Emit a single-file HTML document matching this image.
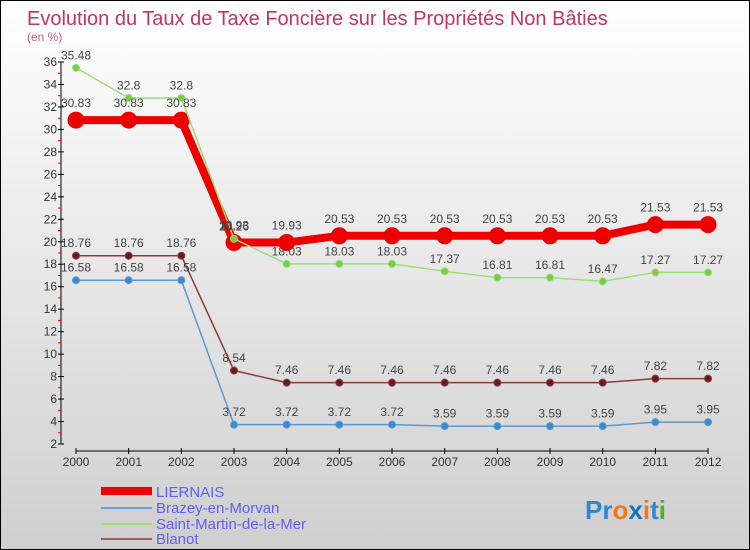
<!DOCTYPE html>
<html><head><meta charset="utf-8"><style>
body{margin:0}
#c{width:748px;height:548px;border:1px solid #000;background:linear-gradient(#ffffff,#cfcfcf);position:relative;overflow:hidden;font-family:"Liberation Sans",sans-serif}
svg text{font-family:"Liberation Sans",sans-serif}
</style></head><body>
<div id="c">
<svg id="s" width="748" height="548" xmlns="http://www.w3.org/2000/svg">
<text x="26" y="24" font-size="20" fill="#c03468">Evolution du Taux de Taxe Foncière sur les Propriétés Non Bâties</text>
<text x="26" y="40" font-size="12" fill="#c06088">(en %)</text>
<g id="axes"></g><g id="series"></g><g id="labels"></g>
<g>
<rect x="100" y="486" width="51" height="8" fill="#ee0000"/>
<text x="155" y="496" font-size="15" fill="#6060f0">LIERNAIS</text>
<line x1="100" y1="507" x2="151" y2="507" stroke="#6aa0d0" stroke-width="2"/>
<text x="155" y="512" font-size="15" fill="#6060f0">Brazey-en-Morvan</text>
<line x1="100" y1="523" x2="151" y2="523" stroke="#99dd77" stroke-width="2"/>
<text x="155" y="528" font-size="15" fill="#6060f0">Saint-Martin-de-la-Mer</text>
<line x1="100" y1="538" x2="151" y2="538" stroke="#a06060" stroke-width="2"/>
<text x="155" y="543" font-size="15" fill="#6060f0">Blanot</text>
</g>
<g font-size="26" font-weight="bold">
<text x="584" y="518"><tspan fill="#2a8ad0">Pr</tspan><tspan fill="#f07818">o</tspan><tspan fill="#1a70c0">x</tspan><tspan fill="#f07818">i</tspan><tspan fill="#2a8ad0">t</tspan><tspan fill="#50b030">i</tspan></text>
</g>
</svg></div>
<script>
const years=[2000,2001,2002,2003,2004,2005,2006,2007,2008,2009,2010,2011,2012];
const liernais=[30.83,30.83,30.83,19.93,19.93,20.53,20.53,20.53,20.53,20.53,20.53,21.53,21.53];
const brazey=[16.58,16.58,16.58,3.72,3.72,3.72,3.72,3.59,3.59,3.59,3.59,3.95,3.95];
const saintMartin=[35.48,32.8,32.8,20.26,18.03,18.03,18.03,17.37,16.81,16.81,16.47,17.27,17.27];
const blanot=[18.76,18.76,18.76,8.54,7.46,7.46,7.46,7.46,7.46,7.46,7.46,7.82,7.82];
const yTicks=[2,4,6,8,10,12,14,16,18,20,22,24,26,28,30,32,34,36];
const NS="http://www.w3.org/2000/svg";
const xs=i=>75+i*52.67;
const ys=v=>443-(v-2)*(382/34);
function mk(tag,attrs,parent){const e=document.createElementNS(NS,tag);for(const k in attrs)e.setAttribute(k,attrs[k]);parent.appendChild(e);return e;}
const ax=document.getElementById('axes'),se=document.getElementById('series'),lb=document.getElementById('labels');
let l=mk('line',{x1:60,y1:61,x2:60,y2:443,stroke:'#000'},ax);


l=mk('line',{x1:75,y1:450,x2:707,y2:450,stroke:'#000'},ax);


yTicks.forEach(v=>{const y=ys(v);
 mk('line',{x1:57,y1:y,x2:63,y2:y,stroke:'#000'},ax);
 if(v<36) mk('line',{x1:57,y1:ys(v+1),x2:60,y2:ys(v+1),stroke:'#e00'},ax);
 const t=mk('text',{x:56,y:y+4,'font-size':12,'text-anchor':'end',fill:'#333'},ax);t.textContent=v;
 
 });
years.forEach((yr,i)=>{const x=xs(i);
 mk('line',{x1:x,y1:447,x2:x,y2:453,stroke:'#000'},ax);
 const t=mk('text',{x:x,y:465,'font-size':12,'text-anchor':'middle',fill:'#333'},ax);t.textContent=yr;
 
 });
function series(data,name,color,w,r,dot){
 const p=mk('polyline',{points:data.map((v,i)=>xs(i)+','+ys(v)).join(' '),fill:'none',stroke:color,'stroke-width':w,'stroke-linejoin':'round'},se);
 
 
 data.forEach((v,i)=>{const c=mk('circle',{cx:xs(i),cy:ys(v),r:r,fill:dot,stroke:color,'stroke-width':1},se);
  
  
  const t=mk('text',{x:xs(i),y:ys(v)-(r+5),'font-size':12,'text-anchor':'middle',fill:'#444'},lb);t.textContent=v;
  
  });
}
series(brazey,'brazey','#5a9ad0',1.5,3.5,'#3a8ad0');
series(blanot,'blanot','#8a3a3a',1.5,3.5,'#6a1a1a');
series(liernais,'liernais','#ee0000',8,8,'#ee0000');
series(saintMartin,'saint-martin','#99dd77',1.5,3.5,'#77cc44');
</script>
</body></html>
